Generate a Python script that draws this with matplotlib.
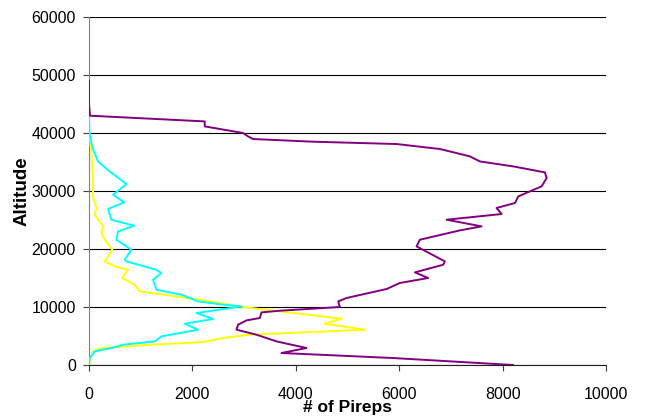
import numpy as np
import matplotlib
matplotlib.use("Agg")
import matplotlib.pyplot as plt

plt.rcParams['font.family'] = ['Liberation Sans', 'DejaVu Sans']

# altitude (ft) vs number of pireps
purple_alt = [0, 1200, 2070, 2930, 4070, 5220, 6090, 6950, 7690, 8100, 9070, 9360,
              10000, 10970, 11550, 13100, 14140, 15000, 15970, 17290, 17860, 20450,
              21600, 23210, 23900, 25050, 26030, 27070, 27930, 29070, 30800, 32240,
              33210, 34240, 35100, 35970, 37240, 38100, 38500, 38960, 39410, 40000,
              41140, 42000, 42980, 45000, 49000]
purple_val = [8200, 5885, 3723, 4207, 3627, 3240, 2853, 2884, 3046, 3304, 3337, 3691,
              4852, 4820, 4981, 5755, 6013, 6561, 6304, 6851, 6884, 6336,
              6400, 7174, 7594, 6917, 7981, 7884, 8239, 8303, 8755, 8852,
              8819, 8206, 7561, 7368, 6787, 5949, 4335, 3174, 3077, 2980,
              2239, 2239, 20, 0, 0]

cyan_alt = [0, 1200, 2350, 2930, 3500, 4070, 4930, 6090, 7120, 7930, 8960, 10100,
            10400, 10970, 12120, 12980, 14700, 15860, 16430, 17860, 18150, 19880,
            21600, 23030, 24020, 25050, 26900, 28030, 29360, 31200, 33380, 35100,
            37120, 38280, 40000, 42860]
cyan_val = [0, 14, 110, 433, 658, 1271, 1400, 2110, 1852, 2400, 2078, 2949,
            2593, 2110, 1788, 1304, 1239, 1400, 1300, 723, 691, 820,
            530, 562, 871, 433, 368, 678, 465, 723, 400, 174,
            80, 46, 10, 0]

yellow_alt = [0, 1480, 2350, 2930, 3500, 3950, 4650, 5220, 6090, 7120, 7980, 9240,
              10000, 11260, 11550, 12690, 13850, 15000, 16430, 17000, 17860, 19880,
              21600, 22760, 23900, 25910, 27070, 29070, 31950, 36550, 40500]
yellow_val = [0, 46, 77, 240, 1207, 2200, 2593, 3100, 5336, 4562, 4885, 3691,
              2980, 2142, 1900, 981, 884, 640, 755, 497, 304, 450,
              304, 240, 271, 110, 143, 77, 77, 46, 0]

fig = plt.figure(figsize=(6.45, 4.19), dpi=100)
ax = fig.add_axes([89 / 645, 1 - 365 / 419, 517 / 645, 348 / 419])

ax.plot(yellow_val, yellow_alt, color='#FFFF00', lw=1.4, zorder=3, solid_joinstyle='round')
ax.plot(cyan_val, cyan_alt, color='#00FFFF', lw=1.4, zorder=3, solid_joinstyle='round')
ax.plot(purple_val, purple_alt, color='#800080', lw=1.4, zorder=4, solid_joinstyle='round')

ax.set_xlim(0, 10000)
ax.set_ylim(0, 60000)
ax.set_xticks(np.arange(0, 10001, 2000))
ax.set_yticks(np.arange(0, 60001, 10000))
ax.yaxis.grid(True, color='black', lw=0.8)
ax.set_axisbelow(True)

for s in ['top', 'right']:
    ax.spines[s].set_visible(False)
ax.spines['left'].set_color('#808080')
ax.spines['bottom'].set_color('#202020')
ax.tick_params(axis='both', direction='out', length=4.5, width=0.8,
               color='#404040', labelsize=11.5)
ax.tick_params(axis='x', pad=11)
ax.tick_params(axis='y', pad=5)

ax.set_xlabel('# of Pireps', fontsize=12.5, fontweight='bold', labelpad=-1)
ax.set_ylabel('Altitude', fontsize=13.5, fontweight='bold', labelpad=0.5)

fig.savefig('out.png', dpi=100)
